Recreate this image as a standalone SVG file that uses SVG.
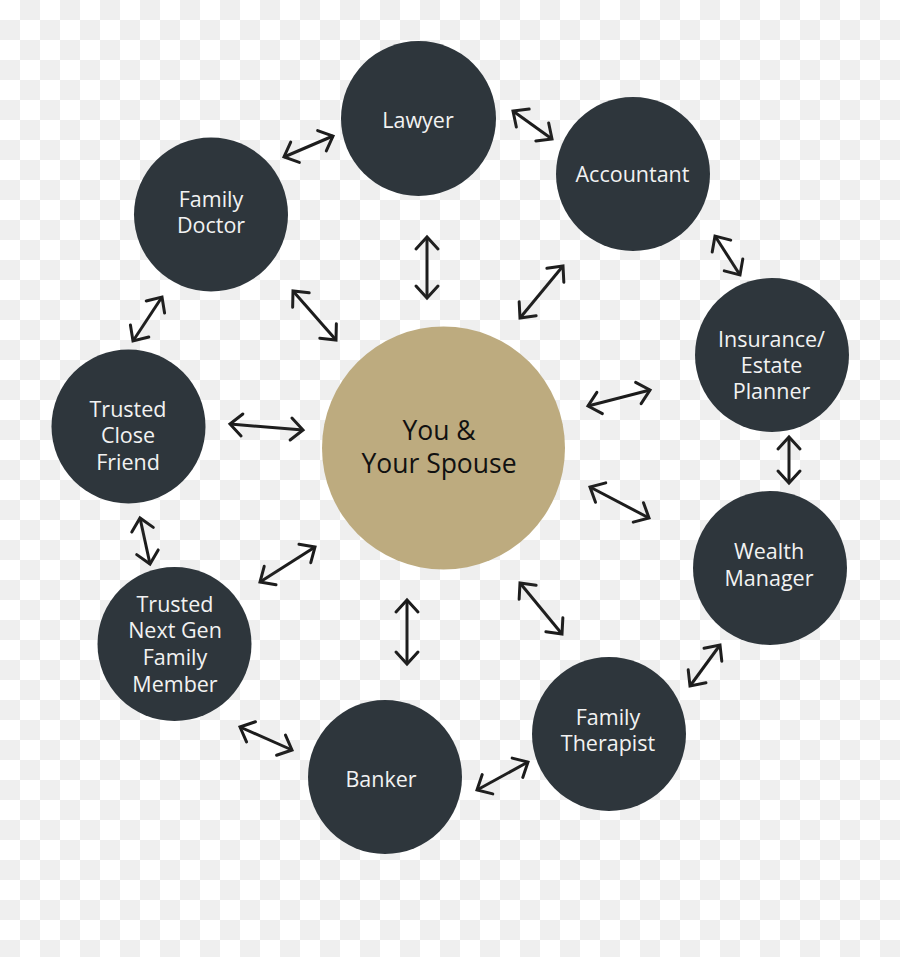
<svg xmlns="http://www.w3.org/2000/svg" width="900" height="957" viewBox="0 0 900 957">
<style>
.node{fill:#2e363c}
.lbl{font-family:"Open Sans","Noto Sans","Liberation Sans",sans-serif;font-size:21.5px;fill:#f2f2f2;text-anchor:middle}
.clbl{font-family:"Open Sans","Noto Sans","Liberation Sans",sans-serif;font-size:26.5px;fill:#111;text-anchor:middle}
.arr{stroke:#1e1e1e;stroke-width:3;fill:none;marker-start:url(#ah);marker-end:url(#ah)}
</style>
<defs>
<pattern id="chk" width="40" height="40" patternUnits="userSpaceOnUse">
<rect width="40" height="40" fill="#ffffff"/>
<rect x="20" y="0" width="20" height="20" fill="#efefef"/>
<rect x="0" y="20" width="20" height="20" fill="#efefef"/>
</pattern>
<marker id="ah" markerUnits="userSpaceOnUse" markerWidth="40" markerHeight="40" viewBox="-20 -20 40 40" refX="0" refY="0" orient="auto-start-reverse" overflow="visible">
<path d="M-12 -11 L0 0 L-12 11" fill="none" stroke="#1e1e1e" stroke-width="3" stroke-linecap="round" stroke-linejoin="miter"/>
</marker>
</defs>
<rect width="900" height="957" fill="url(#chk)"/>
<g id="connectors">
<path class="arr" d="M284 157 L333 136"/>
<path class="arr" d="M513 111 L552 139"/>
<path class="arr" d="M715 236 L740 275"/>
<path class="arr" d="M789 437 L789 483"/>
<path class="arr" d="M720 645 L690 686"/>
<path class="arr" d="M528 762 L477 790"/>
<path class="arr" d="M292 750 L240 727"/>
<path class="arr" d="M140 518 L150 564"/>
<path class="arr" d="M162 297 L133 341"/>
<path class="arr" d="M427 237 L427 298"/>
<path class="arr" d="M520 318 L563 266"/>
<path class="arr" d="M588 406 L650 390"/>
<path class="arr" d="M590 487 L649 518"/>
<path class="arr" d="M520 583 L562 634"/>
<path class="arr" d="M407 600 L407 664"/>
<path class="arr" d="M260 582 L315 547"/>
<path class="arr" d="M230 424 L303 430"/>
<path class="arr" d="M293 291 L336 340"/>
</g>
<g id="center">
<circle cx="443.5" cy="448" r="121.5" fill="#bdab7f"/>
<text class="clbl" x="439" y="440">You &amp;</text>
<text class="clbl" x="439" y="473">Your Spouse</text>
</g>
<g id="lawyer">
<circle class="node" cx="418.5" cy="118.5" r="77.5"/>
<text class="lbl" x="418" y="128">Lawyer</text>
</g>
<g id="accountant">
<circle class="node" cx="633" cy="174" r="77"/>
<text class="lbl" x="632.5" y="182">Accountant</text>
</g>
<g id="family-doctor">
<circle class="node" cx="211" cy="214.5" r="77"/>
<text class="lbl" x="211" y="207">Family</text>
<text class="lbl" x="211" y="233">Doctor</text>
</g>
<g id="insurance">
<circle class="node" cx="772" cy="355" r="77"/>
<text class="lbl" x="771.5" y="347">Insurance/</text>
<text class="lbl" x="771.5" y="373">Estate</text>
<text class="lbl" x="771.5" y="399">Planner</text>
</g>
<g id="close-friend">
<circle class="node" cx="128.5" cy="426.5" r="77"/>
<text class="lbl" x="128" y="417">Trusted</text>
<text class="lbl" x="128" y="443">Close</text>
<text class="lbl" x="128" y="470">Friend</text>
</g>
<g id="wealth-manager">
<circle class="node" cx="770" cy="568" r="77"/>
<text class="lbl" x="769" y="559">Wealth</text>
<text class="lbl" x="769" y="586">Manager</text>
</g>
<g id="next-gen">
<circle class="node" cx="174.5" cy="644" r="77"/>
<text class="lbl" x="175" y="612">Trusted</text>
<text class="lbl" x="175" y="638">Next Gen</text>
<text class="lbl" x="175" y="665">Family</text>
<text class="lbl" x="175" y="692">Member</text>
</g>
<g id="banker">
<circle class="node" cx="385" cy="777" r="77"/>
<text class="lbl" x="381" y="787">Banker</text>
</g>
<g id="family-therapist">
<circle class="node" cx="609" cy="734" r="77"/>
<text class="lbl" x="608" y="725">Family</text>
<text class="lbl" x="608" y="751">Therapist</text>
</g>
</svg>
